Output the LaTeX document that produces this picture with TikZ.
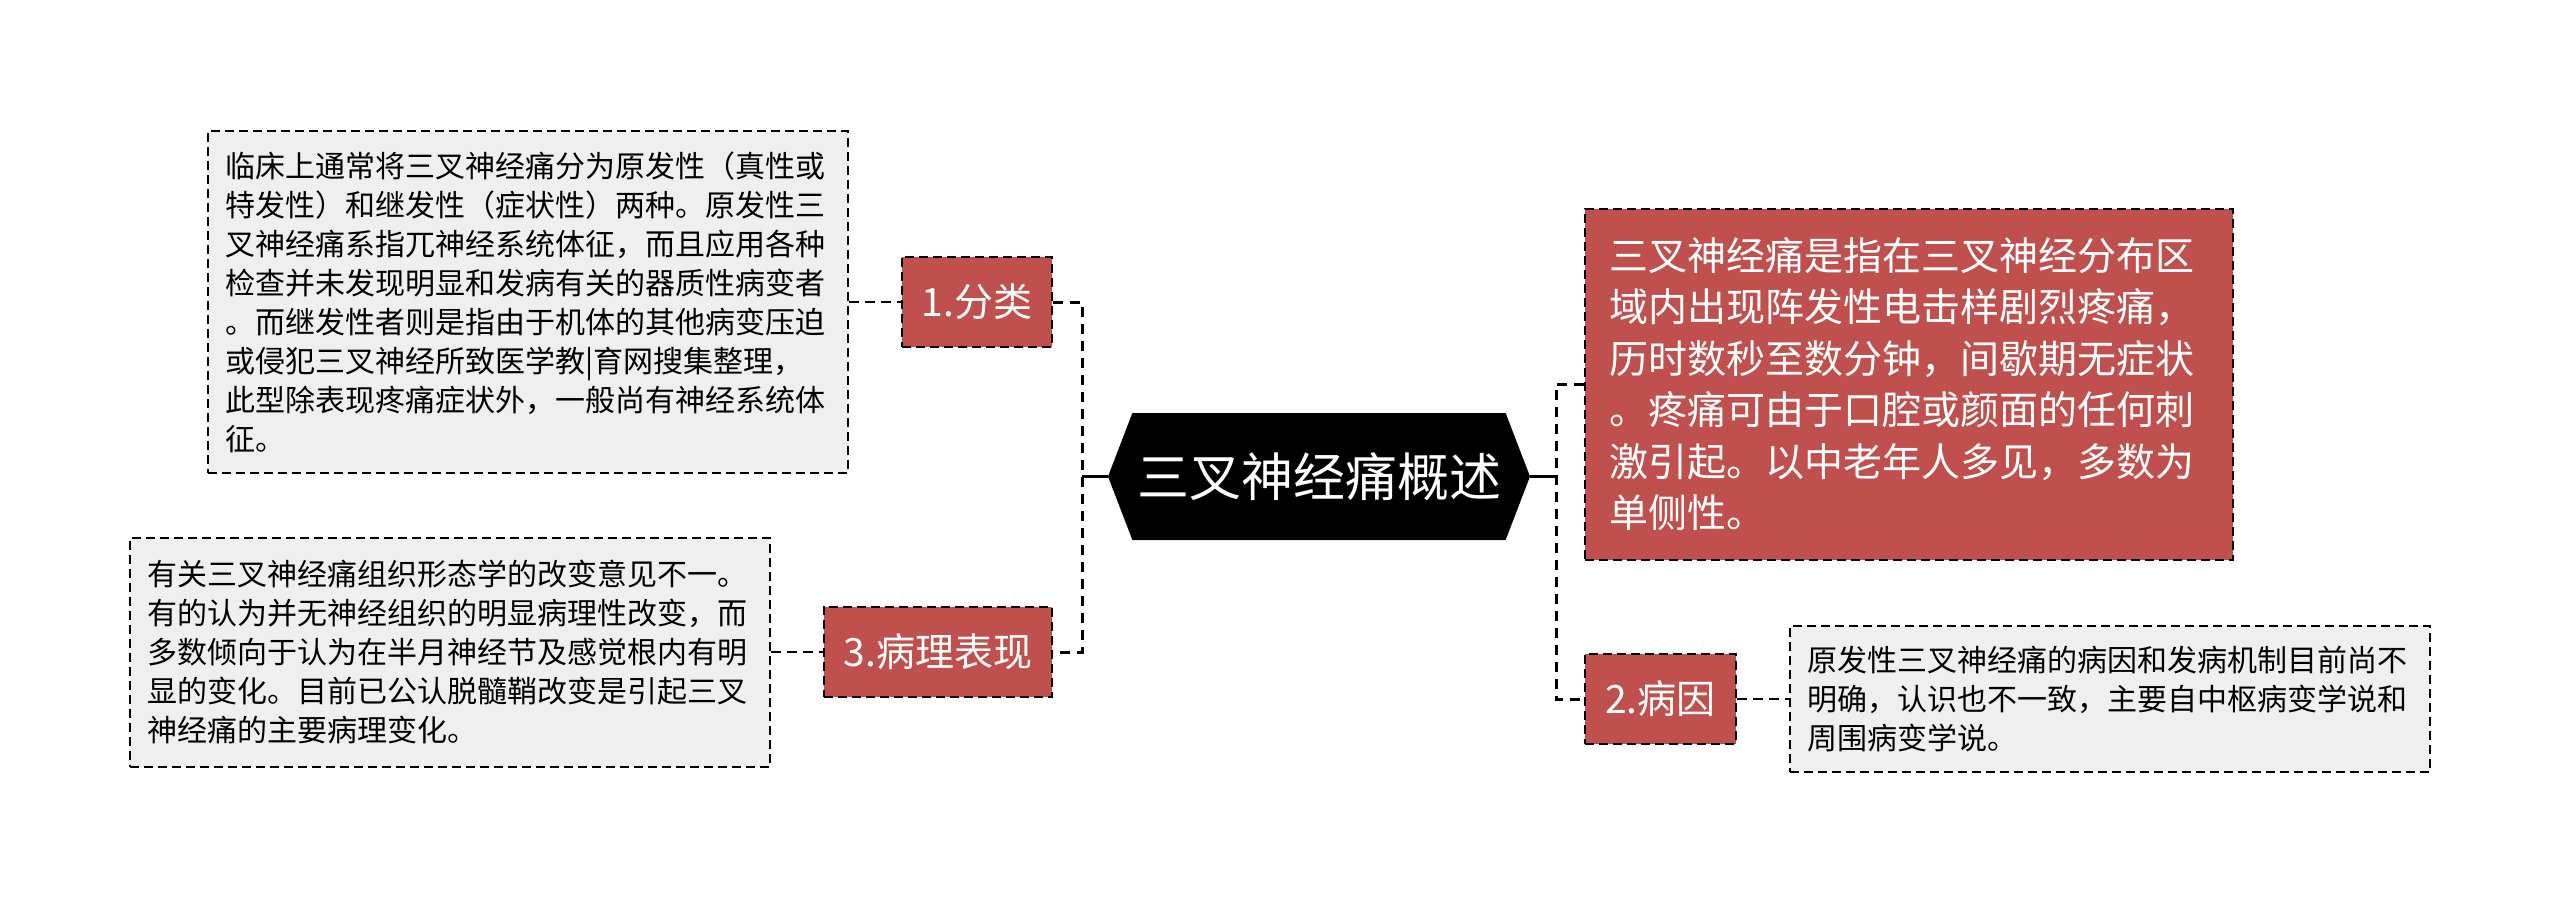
\documentclass[tikz,border=0pt]{standalone}
\usepackage{fontspec}
\setmainfont{Noto Sans CJK SC}
\usetikzlibrary{positioning,shapes.symbols}
\definecolor{topicred}{HTML}{C0504D}
\definecolor{notegray}{HTML}{EFEFEF}

\begin{document}
\begin{tikzpicture}[node distance=26pt,
root/.style={shape=signal,signal to=west and east,signal pointer angle=138,fill=black,text=white,minimum width=211pt,minimum height=63.5pt,inner sep=0pt,font=\fontsize{26}{30}\selectfont},
topic/.style={draw,fill=topicred,text=white,line width=1pt,dash pattern=on 4.5pt off 2.5pt,inner xsep=10pt,minimum height=45pt,font=\fontsize{19.5}{25.75}\selectfont},
summary/.style={topic,align=left,text width=300pt,inner xsep=12pt,minimum height=175.5pt},
note/.style={draw,fill=notegray,line width=1pt,dash pattern=on 4.5pt off 2.5pt,align=left,text width=302pt,inner xsep=9pt,font=\fontsize{15}{19.5}\selectfont},
trunk/.style={line width=1.5pt,dash pattern=on 5pt off 3.5pt},
stem/.style={line width=1.2pt},
link/.style={line width=1pt,dash pattern=on 5pt off 3pt}]
\useasboundingbox (0,0) rectangle (1280pt,-452pt);
\node[root] (main) at (659.5pt,-238.25pt) {三叉神经痛概述};
\coordinate (ltrunk) at (541pt,-238.25pt);
\coordinate (rtrunk) at (778pt,-238.25pt);
\node[topic,anchor=east] (kind) at (526.5pt,-151pt) {1.分类};
\node[topic,anchor=east] (patho) at (526.5pt,-326pt) {3.病理表现};
\node[summary,anchor=west] (defn) at (792pt,-192pt) {三叉神经痛是指在三叉神经分布区\\域内出现阵发性电击样剧烈疼痛，\\历时数秒至数分钟，间歇期无症状\\。疼痛可由于口腔或颜面的任何刺\\激引起。以中老年人多见，多数为\\单侧性。};
\node[topic,anchor=west] (cause) at (792pt,-349.5pt) {2.病因};
\node[note,left=of kind,minimum height=171pt] (kindtxt) {临床上通常将三叉神经痛分为原发性（真性或\\特发性）和继发性（症状性）两种。原发性三\\叉神经痛系指兀神经系统体征，而且应用各种\\检查并未发现明显和发病有关的器质性病变者\\。而继发性者则是指由于机体的其他病变压迫\\或侵犯三叉神经所致医学教|育网搜集整理，\\此型除表现疼痛症状外，一般尚有神经系统体\\征。};
\node[note,left=of patho,minimum height=114.5pt] (pathotxt) {有关三叉神经痛组织形态学的改变意见不一。\\有的认为并无神经组织的明显病理性改变，而\\多数倾向于认为在半月神经节及感觉根内有明\\显的变化。目前已公认脱髓鞘改变是引起三叉\\神经痛的主要病理变化。};
\node[note,right=of cause,minimum height=73pt] (causetxt) {原发性三叉神经痛的病因和发病机制目前尚不\\明确，认识也不一致，主要自中枢病变学说和\\周围病变学说。};
\draw[stem] (main.west) -- (ltrunk);
\draw[stem] (main.east) -- (rtrunk);
\draw[trunk] (kind.east) -| (ltrunk) |- (patho.east);
\draw[trunk] (defn.west) -| (rtrunk) |- (cause.west);
\draw[link] (kindtxt) -- (kind);
\draw[link] (pathotxt) -- (patho);
\draw[link] (cause) -- (causetxt);
\end{tikzpicture}
\end{document}
